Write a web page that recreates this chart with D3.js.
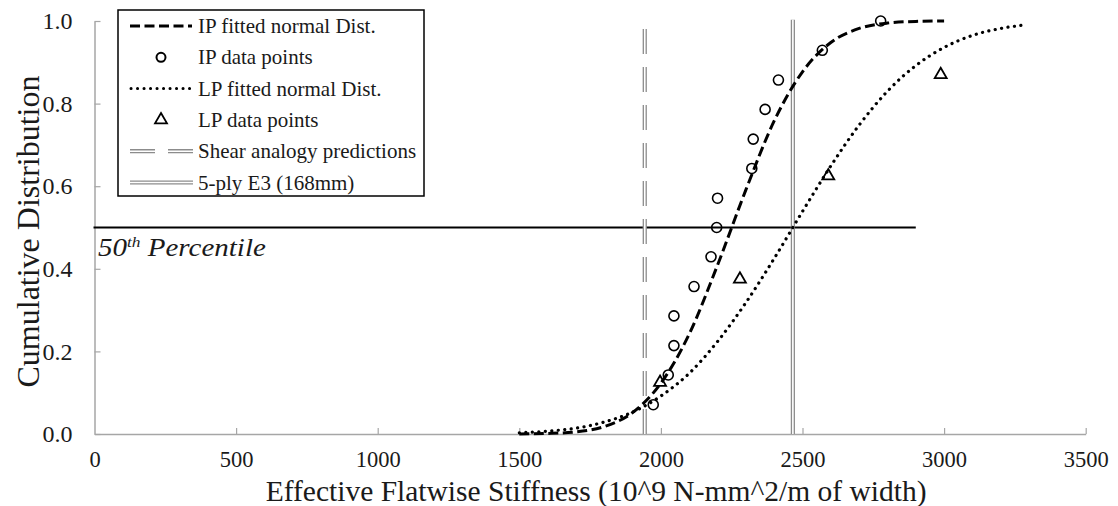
<!DOCTYPE html>
<html><head><meta charset="utf-8">
<script src="https://cdn.jsdelivr.net/npm/d3@7"></script>
<style>
body{margin:0;background:#fff}
svg{display:block}
text{font-family:"Liberation Serif","Times New Roman",serif;fill:#1a1a1a}
</style>
</head><body>
<svg id="c" width="1118" height="506"></svg>
<script>
// ---- data ----
const ipFitX = [1500,1600,1700,1800,1900,2000,2100,2200,2300,2400,2500,2600,2700,2800,2900,3000];
const ipFitY = [0.0002,0.0013,0.005,0.018,0.052,0.123,0.242,0.409,0.591,0.758,0.877,0.948,0.982,0.995,0.999,1.0];
const lpFitX = [1500,1600,1700,1800,1900,2000,2100,2200,2300,2400,2500,2600,2700,2800,2900,3000,3100,3200,3280];
const lpFitY = [0.003,0.007,0.014,0.029,0.053,0.092,0.147,0.224,0.318,0.425,0.539,0.649,0.748,0.830,0.892,0.936,0.965,0.982,0.990];
const ipPointsX = [1973,2026,2046,2046,2117,2177,2197,2200,2321,2326,2368,2415,2570,2776];
const ipPointsY = [0.071,0.143,0.214,0.286,0.357,0.429,0.500,0.571,0.643,0.714,0.786,0.857,0.929,1.000];
const lpPointsX = [1997,2279,2591,2988];
const lpPointsY = [0.125,0.375,0.625,0.870];
const shearX = 1943;
const e3X = 2466;
const pct50 = 0.5;
const pct50End = 2900;
const xTicks = [0,500,1000,1500,2000,2500,3000,3500];
const yTicks = [0,0.2,0.4,0.6,0.8,1.0];
const legendLabels = ["IP fitted normal Dist.","IP data points","LP fitted normal Dist.","LP data points","Shear analogy predictions","5-ply E3 (168mm)"];
const xTitle = "Effective Flatwise Stiffness (10^9 N-mm^2/m of width)";
const yTitle = "Cumulative Distribution";

// ---- layout ----
const svg = d3.select("#c");
const x = d3.scaleLinear().domain([0,3500]).range([94.5,1085.7]);
const y = d3.scaleLinear().domain([0,1]).range([434,21]);
const axisColor = "#a6a6a6";

// axes
const gx = svg.append("g").attr("transform",`translate(0,${y(0)})`)
  .call(d3.axisBottom(x).tickValues(xTicks).tickFormat(d3.format("d")).tickSizeInner(-6).tickSizeOuter(0).tickPadding(17));
const gy = svg.append("g").attr("transform",`translate(${x(0)},0)`)
  .call(d3.axisLeft(y).tickValues(yTicks).tickFormat(d3.format(".1f")).tickSizeInner(-6).tickSizeOuter(0).tickPadding(22));
[gx,gy].forEach(g=>{
  g.select(".domain").attr("stroke",axisColor).attr("stroke-width",1.5);
  g.selectAll(".tick line").attr("stroke",axisColor).attr("stroke-width",1.2);
  g.selectAll(".tick text").attr("fill","#1a1a1a");
});
gy.selectAll(".tick text").attr("font-size",24);
gx.selectAll(".tick text").attr("font-size",22.5);
gx.selectAll(".tick").filter(d=>d===0).select("line").remove();

// axis titles
svg.append("text").attr("x",(x(0)+x(3500))/2+6).attr("y",501).attr("text-anchor","middle")
  .attr("font-size",29.5).text(xTitle);
svg.append("text").attr("transform",`translate(39,${(y(0)+y(1))/2+4}) rotate(-90)`).attr("text-anchor","middle")
  .attr("font-size",32).text(yTitle);

// 50th percentile line
svg.append("line").attr("x1",x(0)-1).attr("x2",x(pct50End)).attr("y1",y(pct50)).attr("y2",y(pct50))
  .attr("stroke","#000").attr("stroke-width",2);
const pt = svg.append("text").attr("transform",`translate(98,${y(pct50)+28}) scale(1.16,1)`)
  .attr("font-size",25).attr("font-style","italic");
pt.append("tspan").text("50");
pt.append("tspan").attr("dy",-9).attr("font-size",15).text("th");
pt.append("tspan").attr("dy",9).text(" Percentile");

// double lines helper
function doubleLine(g, x1,y1,x2,y2,dash){
  const a = g.append("line").attr("x1",x1).attr("y1",y1).attr("x2",x2).attr("y2",y2)
    .attr("stroke","#8c8c8c").attr("stroke-width",4.2);
  const b = g.append("line").attr("x1",x1).attr("y1",y1).attr("x2",x2).attr("y2",y2)
    .attr("stroke","#fff").attr("stroke-width",1.6);
  if(dash){a.attr("stroke-dasharray",dash);b.attr("stroke-dasharray",dash);}
}
doubleLine(svg, x(shearX), y(0), x(shearX), y(1), "25 13");
doubleLine(svg, x(e3X), y(0), x(e3X), y(1.003), null);

// fitted curves
const line = d3.line().x(d=>x(d[0])).y(d=>y(d[1])).curve(d3.curveMonotoneX);
svg.append("path").datum(ipFitX.map((v,i)=>[v,ipFitY[i]])).attr("d",line)
  .attr("fill","none").attr("stroke","#000").attr("stroke-width",3).attr("stroke-dasharray","10 4.5");
svg.append("path").datum(lpFitX.map((v,i)=>[v,lpFitY[i]])).attr("d",line)
  .attr("fill","none").attr("stroke","#000").attr("stroke-width",3.2).attr("stroke-linecap","round").attr("stroke-dasharray","0.1 6.4");

// data points
svg.append("g").selectAll("circle").data(ipPointsX.map((v,i)=>[v,ipPointsY[i]])).join("circle")
  .attr("cx",d=>x(d[0])).attr("cy",d=>y(d[1])).attr("r",5)
  .attr("fill","none").attr("stroke","#000").attr("stroke-width",1.6);
const tri = d3.symbol().type(d3.symbolTriangle).size(62);
svg.append("g").selectAll("path").data(lpPointsX.map((v,i)=>[v,lpPointsY[i]])).join("path")
  .attr("d",tri).attr("transform",d=>`translate(${x(d[0])},${y(d[1])})`)
  .attr("fill","none").attr("stroke","#000").attr("stroke-width",1.8);

// legend
const lg = svg.append("g");
lg.append("rect").attr("x",118).attr("y",10).attr("width",306).attr("height",186)
  .attr("fill","#fff").attr("stroke","#000").attr("stroke-width",1.5);
const rowY = i => 26 + i*31.3;
legendLabels.forEach((t,i)=>{
  lg.append("text").attr("x",198).attr("y",rowY(i)+7).attr("font-size",21).text(t);
});
lg.append("line").attr("x1",130).attr("x2",192).attr("y1",rowY(0)).attr("y2",rowY(0))
  .attr("stroke","#000").attr("stroke-width",3).attr("stroke-dasharray","10 4.5");
lg.append("circle").attr("cx",161).attr("cy",rowY(1)).attr("r",4.5).attr("fill","none").attr("stroke","#000").attr("stroke-width",2);
lg.append("line").attr("x1",131).attr("x2",190).attr("y1",rowY(2)).attr("y2",rowY(2))
  .attr("stroke","#000").attr("stroke-width",3).attr("stroke-linecap","round").attr("stroke-dasharray","0.1 6.4");
lg.append("path").attr("d",tri).attr("transform",`translate(161,${rowY(3)})`).attr("fill","none").attr("stroke","#000").attr("stroke-width",1.8);
doubleLine(lg,130,rowY(4),193,rowY(4),"25 13");
doubleLine(lg,130,rowY(5),193,rowY(5),null);
</script>
</body></html>
